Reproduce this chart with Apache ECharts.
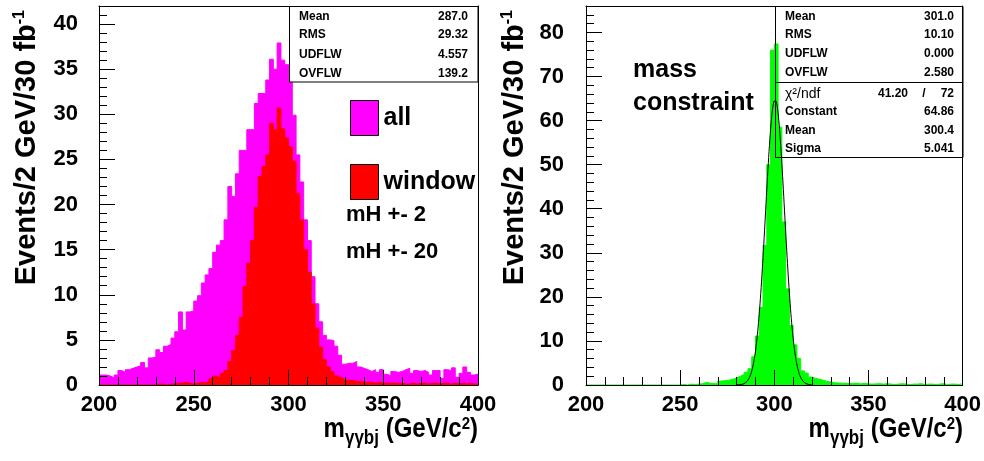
<!DOCTYPE html>
<html><head><meta charset="utf-8">
<script src="https://cdn.jsdelivr.net/npm/echarts@6/dist/echarts.min.js"></script>
<style>html,body{margin:0;padding:0;background:#fff}#c{width:984px;height:461px}</style>
</head><body><div id="c"></div>
<script>
// ---------- data ----------
const binStart = 200;
const binWidth = 2;
const allCounts = [
  1.1, 1.1, 1.0, 0.8, 1.1, 1.6, 1.4, 1.7, 1.85, 2.0,
  2.1, 2.5, 1.9, 3.0, 3.1, 3.9, 3.6, 4.3, 4.5, 5.2,
  5.9, 8.1, 6.1, 8.1, 8.2, 9.3, 9.9, 11.3, 12.2, 12.9,
  14.7, 15.5, 16.0, 18.3, 22.0, 20.9, 23.4, 26.0, 26.0, 28.3,
  28.3, 31.2, 32.3, 32.3, 33.8, 36.1, 35.0, 37.9, 36.0, 35.5,
  34.5, 29.9, 25.5, 22.5, 18.3, 16.0, 12.0, 9.0, 7.0, 5.5,
  5.0, 4.9, 4.3, 3.3, 2.3, 2.4, 2.4, 2.6, 2.0, 1.85,
  1.7, 1.5, 1.7, 1.4, 1.7, 1.2, 1.0, 1.5, 1.4, 1.5,
  1.7, 1.85, 1.3, 1.6, 1.5, 1.6, 1.4, 1.1, 1.6, 1.6,
  0.74, 1.7, 1.6, 1.9, 0.85, 1.3, 2.0, 1.4, 1.1, 1.2
];
const windowCounts = [
  0, 0, 0, 0, 0, 0, 0, 0, 0, 0,
  0, 0, 0, 0, 0, 0.1, 0.1, 0, 0.1, 0.1,
  0.2, 0.2, 0.3, 0.2, 0.1, 0.2, 0.3, 0.2, 0.4, 0.7,
  1.0, 0.8, 1.3, 1.6, 2.6, 3.8, 5.5, 7.5, 10.9, 13.5,
  16.0, 19.7, 23.1, 24.2, 25.5, 29.0, 28.3, 30.7, 28.4, 27.4,
  26.4, 24.8, 21.2, 18.3, 15.0, 12.5, 9.0, 6.3, 4.2, 2.8,
  2.0, 1.5, 1.0, 0.8, 0.6, 0.5, 0.5, 0.4, 0.4, 0.3,
  0.3, 0.3, 0.2, 0.3, 0.2, 0.2, 0.2, 0.2, 0.2, 0.2,
  0.1, 0.1, 0.2, 0.1, 0.2, 0.2, 0.1, 0.2, 0.2, 0.1,
  0.2, 0.2, 0.1, 0.2, 0.1, 0.2, 0.1, 0.2, 0.1, 0.1
];
const constrainedCounts = [
  0, 0, 0, 0, 0, 0, 0, 0, 0, 0,
  0, 0, 0, 0, 0, 0, 0, 0, 0, 0,
  0, 0, 0, 0, 0, 0.1, 0, 0.2, 0.1, 0.2,
  0.3, 0.6, 0.4, 0.3, 0.3, 0.9, 1.0, 1.1, 1.3, 1.6,
  2.0, 2.4, 2.9, 3.7, 6.4, 11.1, 17.6, 31.7, 50.0, 76.0,
  77.4, 58.5, 37.0, 21.8, 13.5, 9.1, 6.0, 3.2, 2.7, 1.8,
  1.5, 1.3, 1.1, 0.8, 0.7, 0.5, 0.45, 0.4, 0.4, 0.3,
  0.4, 0.4, 0.25, 0.4, 0.25, 0.2, 0.25, 0.3, 0.2, 0.3,
  0.2, 0.1, 0.2, 0.3, 0.2, 0.1, 0.2, 0.2, 0.3, 0.1,
  0.2, 0.2, 0.1, 0.2, 0.3, 0.1, 0.2, 0.2, 0.1, 0.3
];
// Gaussian fit parameters as printed in the fit box
const fitConstant = 64.86;
const fitMean = 300.4;
const fitSigma = 5.041;
const fitRange = [280, 320];

const xTickValues = [200, 250, 300, 350, 400];
const leftYTickValues = [0, 5, 10, 15, 20, 25, 30, 35, 40];
const rightYTickValues = [0, 10, 20, 30, 40, 50, 60, 70, 80];

const statsLeftLabels = ['Mean', 'RMS', 'UDFLW', 'OVFLW'];
const statsLeftValues = ['287.0', '29.32', '4.557', '139.2'];
const statsRightLabels = ['Mean', 'RMS', 'UDFLW', 'OVFLW'];
const statsRightValues = ['301.0', '10.10', '0.000', '2.580'];
const fitLabels = ['Constant', 'Mean', 'Sigma'];
const fitValues = ['64.86', '300.4', '5.041'];
const chi2Value = '41.20';
const ndfValue = '72';

// ---------- helpers ----------
const FONT = "'Liberation Sans', Arial, Helvetica, sans-serif";
const xMin = 200, xMax = 400;
const leftYMax = 42, rightYMax = 86;

function stepData(counts) {
  const pts = counts.map((v, i) => [binStart + i * binWidth, v]);
  pts.push([binStart + counts.length * binWidth, counts[counts.length - 1]]);
  return pts;
}
function rangeValues(lo, hi, step) {
  const out = [];
  for (let v = lo; v <= hi + 1e-9; v += step) out.push(v);
  return out;
}
const fitPoints = [];
for (let x = fitRange[0]; x <= fitRange[1] + 1e-9; x += 0.2) {
  fitPoints.push([x, fitConstant * Math.exp(-0.5 * Math.pow((x - fitMean) / fitSigma, 2))]);
}

const labelStyle = { color: '#000', fontSize: 22, fontWeight: 'bold', fontFamily: FONT };

function xAxesFor(gridIndex) {
  return [
    { gridIndex, type: 'value', min: xMin, max: xMax, interval: 50, position: 'bottom', z: 10,
      axisLine: { show: true, onZero: false, lineStyle: { color: '#000', width: 1 } },
      axisTick: { show: true, inside: true, length: 15, customValues: xTickValues, lineStyle: { color: '#000', width: 1 } },
      minorTick: { show: true, splitNumber: 5, length: 8, lineStyle: { color: '#000', width: 1 } },
      axisLabel: Object.assign({ margin: 9, customValues: xTickValues }, labelStyle),
      splitLine: { show: false }, minorSplitLine: { show: false } },
    { gridIndex, type: 'value', min: xMin, max: xMax, position: 'top', z: 10,
      axisLine: { show: true, onZero: false, lineStyle: { color: '#000', width: 1 } },
      axisTick: { show: false }, axisLabel: { show: false }, splitLine: { show: false } }
  ];
}
function yAxesFor(gridIndex, yMax, majorValues, minorStep, margin) {
  return [
    { gridIndex, type: 'value', min: 0, max: yMax, position: 'left', z: 10,
      axisLine: { show: true, onZero: false, lineStyle: { color: '#000', width: 1 } },
      axisTick: { show: true, inside: true, length: 16, customValues: majorValues, lineStyle: { color: '#000', width: 1 } },
      axisLabel: Object.assign({ margin: margin, customValues: majorValues }, labelStyle),
      splitLine: { show: false } },
    { gridIndex, type: 'value', min: 0, max: yMax, position: 'left', z: 10,
      axisLine: { show: false },
      axisTick: { show: true, inside: true, length: 8, customValues: rangeValues(0, yMax, minorStep), lineStyle: { color: '#000', width: 1 } },
      axisLabel: { show: false }, splitLine: { show: false } },
    { gridIndex, type: 'value', min: 0, max: yMax, position: 'right', z: 10,
      axisLine: { show: true, onZero: false, lineStyle: { color: '#000', width: 1 } },
      axisTick: { show: false }, axisLabel: { show: false }, splitLine: { show: false } }
  ];
}

function histSeries(name, counts, color, xi, yi, z) {
  return { name, type: 'line', xAxisIndex: xi, yAxisIndex: yi, data: stepData(counts), step: 'end',
    symbol: 'none', showSymbol: false, z,
    lineStyle: { color, width: 1 }, itemStyle: { color }, areaStyle: { color, opacity: 1 } };
}

const boldText = (text, x, y, size, align) => ({
  type: 'text', x, y, z: 60,
  style: { text, fill: '#000', font: 'bold ' + size + 'px ' + FONT, align: align || 'left', verticalAlign: 'middle' }
});

const xTitleRich = {
  m: { fontSize: 24, fontWeight: 'bold', fontFamily: FONT, lineHeight: 28, verticalAlign: 'top', fill: '#000' },
  sub: { fontSize: 17, fontWeight: 'bold', fontFamily: FONT, lineHeight: 16, verticalAlign: 'bottom', fill: '#000' },
  sup: { fontSize: 15, fontWeight: 'bold', fontFamily: FONT, lineHeight: 14, verticalAlign: 'top', fill: '#000' }
};
const yTitleRich = {
  m: { fontSize: 29, fontWeight: 'bold', fontFamily: FONT, lineHeight: 30, verticalAlign: 'top', fill: '#000' },
  sup: { fontSize: 16, fontWeight: 'bold', fontFamily: FONT, lineHeight: 16, verticalAlign: 'top', fill: '#000' }
};
function xTitle(xRight) {
  return { type: 'text', x: xRight, y: 416, scaleY: 1.15, z: 60,
    style: { text: '{m|m}{sub|γγbj}{m| (GeV/c}{sup|2}{m|)}', rich: xTitleRich, align: 'right', verticalAlign: 'top' } };
}
function yTitle(xc) {
  return { type: 'text', x: xc, y: 10, rotation: Math.PI / 2, z: 60,
    style: { text: '{m|Events/2 GeV/30 fb}{sup|-1}', rich: yTitleRich, align: 'right', verticalAlign: 'middle' } };
}

const rowsL = [16.5, 35, 54.5, 73.5];
const rowsR = [16.5, 35, 54, 73, 94, 111.5, 130.5, 149];
const gfx = [];
// left stats box
gfx.push({ type: 'rect', z: 50, shape: { x: 289.5, y: 6.5, width: 188.5, height: 75.5 }, style: { fill: '#fff', stroke: '#000', lineWidth: 1 } });
statsLeftLabels.forEach((t, i) => gfx.push(boldText(t, 299, rowsL[i], 12, 'left')));
statsLeftValues.forEach((t, i) => gfx.push(boldText(t, 468, rowsL[i], 12, 'right')));
// right stats box (transparent)
gfx.push({ type: 'rect', z: 50, shape: { x: 775.5, y: 6.5, width: 187.5, height: 151 }, style: { fill: null, stroke: '#000', lineWidth: 1 } });
gfx.push({ type: 'line', z: 50, shape: { x1: 775.5, y1: 82.5, x2: 963, y2: 82.5 }, style: { stroke: '#000', lineWidth: 1 } });
statsRightLabels.forEach((t, i) => gfx.push(boldText(t, 785, rowsR[i], 12, 'left')));
statsRightValues.forEach((t, i) => gfx.push(boldText(t, 954, rowsR[i], 12, 'right')));
gfx.push({ type: 'text', x: 785, y: rowsR[4], z: 60, style: { text: 'χ²/ndf', fill: '#000', font: '14px ' + FONT, align: 'left', verticalAlign: 'middle' } });
gfx.push(boldText(chi2Value, 908, rowsR[4], 12, 'right'));
gfx.push(boldText('/', 924, rowsR[4], 12, 'center'));
gfx.push(boldText(ndfValue, 954, rowsR[4], 12, 'right'));
fitLabels.forEach((t, i) => gfx.push(boldText(t, 785, rowsR[5 + i], 12, 'left')));
fitValues.forEach((t, i) => gfx.push(boldText(t, 954, rowsR[5 + i], 12, 'right')));
// annotations
gfx.push(boldText('mH +- 2', 346, 215, 22, 'left'));
gfx.push(boldText('mH +- 20', 346, 252, 22, 'left'));
gfx.push(boldText('mass', 633, 70, 25, 'left'));
gfx.push(boldText('constraint', 633, 103, 25, 'left'));
// titles
gfx.push(xTitle(478));
gfx.push(xTitle(963));
gfx.push(yTitle(27));
gfx.push(yTitle(515));

const option = {
  animation: false,
  backgroundColor: '#fff',
  grid: [
    { left: 99, top: 6, width: 379, height: 379, containLabel: false },
    { left: 586, top: 6, width: 377, height: 379, containLabel: false }
  ],
  xAxis: [].concat(xAxesFor(0), xAxesFor(1)),
  yAxis: [].concat(yAxesFor(0, leftYMax, leftYTickValues, 1, 21), yAxesFor(1, rightYMax, rightYTickValues, 2, 22)),
  legend: {
    data: ['all', 'window'], left: 345, top: 95, orient: 'vertical', icon: 'rect',
    itemWidth: 28, itemHeight: 35, itemGap: 28, selectedMode: false,
    itemStyle: { borderColor: '#000', borderWidth: 1 },
    textStyle: { color: '#000', fontSize: 25, fontWeight: 'bold', fontFamily: FONT }
  },
  graphic: { elements: gfx },
  series: [
    histSeries('all', allCounts, '#ff00ff', 0, 0, 2),
    histSeries('window', windowCounts, '#ff0000', 0, 0, 3),
    histSeries('mass constraint', constrainedCounts, '#00ff00', 2, 3, 2),
    { name: 'gaus', type: 'line', xAxisIndex: 2, yAxisIndex: 3, data: fitPoints, symbol: 'none', showSymbol: false, z: 4,
      lineStyle: { color: '#000', width: 1 } }
  ]
};
const chart = echarts.init(document.getElementById('c'));
chart.setOption(option);
</script>
</body></html>
